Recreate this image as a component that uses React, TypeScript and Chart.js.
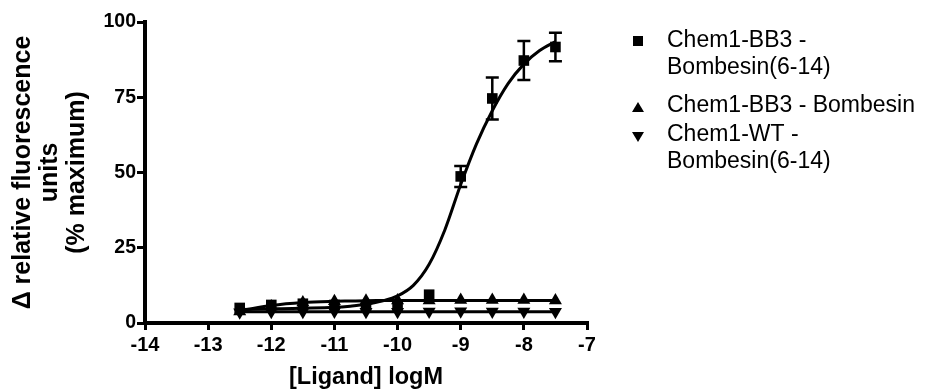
import React, { useEffect, useRef } from 'react';
import { Chart, registerables } from 'chart.js';

Chart.register(...registerables);

// log molar ligand concentrations
const logConc = [-12.5, -12, -11.5, -11, -10.5, -10, -9.5, -9, -8.5, -8, -7.5];
// Chem1-BB3 - Bombesin(6-14) (squares)
const bb3Bom614 = [5.0, 6.0, 6.4, 6.0, 5.4, 5.8, 9.4, 48.7, 74.6, 87.2, 91.7];
const bb3Bom614Err = [0, 0, 0, 0, 0, 0, 0, 3.5, 7.0, 6.5, 4.7];
// Chem1-BB3 - Bombesin (up triangles)
const bb3Bom = [3.8, 5.5, 6.8, 7.2, 7.4, 7.5, 7.5, 7.6, 7.6, 7.6, 7.5];
// Chem1-WT - Bombesin(6-14) (down triangles)
const wtBom614 = [3.6, 3.7, 3.7, 3.8, 3.7, 3.7, 3.8, 3.9, 3.8, 3.8, 3.7];

// fitted curves
const fitConc = [-12.5, -12, -11.5, -11, -10.75, -10.5, -10.25, -10, -9.75, -9.5, -9.25, -9, -8.75, -8.5, -8.25, -8, -7.75, -7.5];
const fitBb3Bom614 = [4.5, 4.7, 4.9, 5.2, 5.6, 6.2, 7.3, 9.0, 12.5, 19.5, 31.0, 46.0, 59.5, 70.5, 79.5, 86.0, 90.5, 93.5];
const fitBb3Bom = [4.0, 5.8, 6.8, 7.2, 7.3, 7.4, 7.45, 7.5, 7.5, 7.5, 7.5, 7.5, 7.5, 7.5, 7.5, 7.5, 7.5, 7.5];
const fitWtBom614 = [3.7, 3.7, 3.7, 3.7, 3.7, 3.7, 3.7, 3.7, 3.7, 3.7, 3.7, 3.7, 3.7, 3.7, 3.7, 3.7, 3.7, 3.7];

const seriesLabels = [
  ['Chem1-BB3 -', 'Bombesin(6-14)'],
  ['Chem1-BB3 - Bombesin'],
  ['Chem1-WT -', 'Bombesin(6-14)'],
];
const xTitle = '[Ligand] logM';
const yTitle = ['\u0394 relative fluorescence', 'units', '(% maximum)'];

const FONT = '"Liberation Sans", Arial, Helvetica, sans-serif';

const toPts = (xs: number[], ys: number[]) => xs.map((x, i) => ({ x, y: ys[i] }));

const errorBarPlugin = {
  id: 'errorBars',
  afterDatasetsDraw(chart: any) {
    const { ctx, scales } = chart;
    const xs = scales.x;
    const ys = scales.y;
    ctx.save();
    ctx.strokeStyle = '#000';
    ctx.lineWidth = 2.5;
    logConc.forEach((c, i) => {
      const e = bb3Bom614Err[i];
      if (!e) return;
      const px = xs.getPixelForValue(c);
      const top = ys.getPixelForValue(bb3Bom614[i] + e);
      const bot = ys.getPixelForValue(bb3Bom614[i] - e);
      ctx.beginPath();
      ctx.moveTo(px, top);
      ctx.lineTo(px, bot);
      ctx.moveTo(px - 6.5, top);
      ctx.lineTo(px + 6.5, top);
      ctx.moveTo(px - 6.5, bot);
      ctx.lineTo(px + 6.5, bot);
      ctx.stroke();
    });
    ctx.restore();
  },
};

const legendPlugin = {
  id: 'customLegend',
  afterDraw(chart: any) {
    const { ctx } = chart;
    ctx.save();
    ctx.fillStyle = '#000';
    ctx.font = `23px ${FONT}`;
    ctx.textBaseline = 'middle';
    ctx.textAlign = 'left';
    const mx = 638;
    const tx = 667;
    const itemTops = [41, 105.5, 134.5];
    const lineGap = 27;
    seriesLabels.forEach((lines, i) => {
      const y0 = itemTops[i];
      lines.forEach((t, j) => ctx.fillText(t, tx, y0 + j * lineGap));
      ctx.beginPath();
      const my = i === 0 ? y0 : y0 + 1.5;
      if (i === 0) {
        ctx.rect(mx - 5, my - 5, 10, 10);
      } else if (i === 1) {
        ctx.moveTo(mx, my - 5);
        ctx.lineTo(mx + 6, my + 5);
        ctx.lineTo(mx - 6, my + 5);
        ctx.closePath();
      } else {
        ctx.moveTo(mx - 6, my - 4);
        ctx.lineTo(mx + 6, my - 4);
        ctx.lineTo(mx, my + 6);
        ctx.closePath();
      }
      ctx.fill();
    });
    ctx.restore();
  },
};

export default function App() {
  const ref = useRef<HTMLCanvasElement | null>(null);

  useEffect(() => {
    if (!ref.current) return;
    const lineDs = (data: number[]) => ({
      data: toPts(fitConc, data),
      showLine: true,
      pointRadius: 0,
      borderColor: '#000',
      borderWidth: 3,
      cubicInterpolationMode: 'monotone',
      fill: false,
    });
    const chart = new Chart(ref.current, {
      type: 'scatter',
      data: {
        datasets: [
          lineDs(fitBb3Bom614) as any,
          lineDs(fitBb3Bom) as any,
          lineDs(fitWtBom614) as any,
          {
            label: seriesLabels[0].join(' '),
            data: toPts(logConc, bb3Bom614),
            pointStyle: 'rect',
            pointRadius: 7.5,
            backgroundColor: '#000',
            borderColor: '#000',
            borderWidth: 0,
          },
          {
            label: seriesLabels[1].join(' '),
            data: toPts(logConc, bb3Bom),
            pointStyle: 'triangle',
            pointRadius: 7.5,
            backgroundColor: '#000',
            borderColor: '#000',
            borderWidth: 0,
          },
          {
            label: seriesLabels[2].join(' '),
            data: toPts(logConc, wtBom614),
            pointStyle: 'triangle',
            rotation: 180,
            pointRadius: 7.5,
            backgroundColor: '#000',
            borderColor: '#000',
            borderWidth: 0,
          },
        ],
      },
      options: {
        responsive: false,
        animation: false,
        devicePixelRatio: 1,
        layout: { padding: { top: 22, right: 340, left: 0, bottom: 0 } },
        plugins: {
          legend: { display: false },
          tooltip: { enabled: false },
        },
        scales: {
          x: {
            type: 'linear',
            min: -14,
            max: -7,
            ticks: {
              stepSize: 1,
              color: '#000',
              padding: 3,
              font: { family: FONT, size: 20, weight: 'bold' },
            },
            grid: {
              drawOnChartArea: false,
              color: '#000',
              tickColor: '#000',
              tickLength: 7,
              tickWidth: 3,
              lineWidth: 3,
            },
            border: { color: '#000', width: 4 },
            title: {
              display: true,
              text: xTitle,
              color: '#000',
              padding: { top: 0, bottom: 1 },
              font: { family: FONT, size: 23.5, weight: 'bold', lineHeight: 1.15 },
            },
            afterFit(scale: any) {
              scale.height = 69;
            },
          },
          y: {
            type: 'linear',
            min: 0,
            max: 100,
            ticks: {
              stepSize: 25,
              color: '#000',
              padding: 1,
              font: { family: FONT, size: 19.5, weight: 'bold' },
            },
            grid: {
              drawOnChartArea: false,
              color: '#000',
              tickColor: '#000',
              tickLength: 8,
              tickWidth: 3,
              lineWidth: 3,
            },
            border: { color: '#000', width: 4 },
            title: {
              display: true,
              text: yTitle,
              color: '#000',
              padding: { top: 10, bottom: 0 },
              font: { family: FONT, size: 25, weight: 'bold', lineHeight: 1.08 },
            },
            afterFit(scale: any) {
              scale.width = 145;
            },
          },
        },
      } as any,
      plugins: [errorBarPlugin, legendPlugin],
    });
    return () => chart.destroy();
  }, []);

  return (
    <div style={{ position: 'absolute', left: 0, top: 0, width: 927, height: 392, background: '#fff' }}>
      <canvas ref={ref} width={927} height={392} />
    </div>
  );
}
